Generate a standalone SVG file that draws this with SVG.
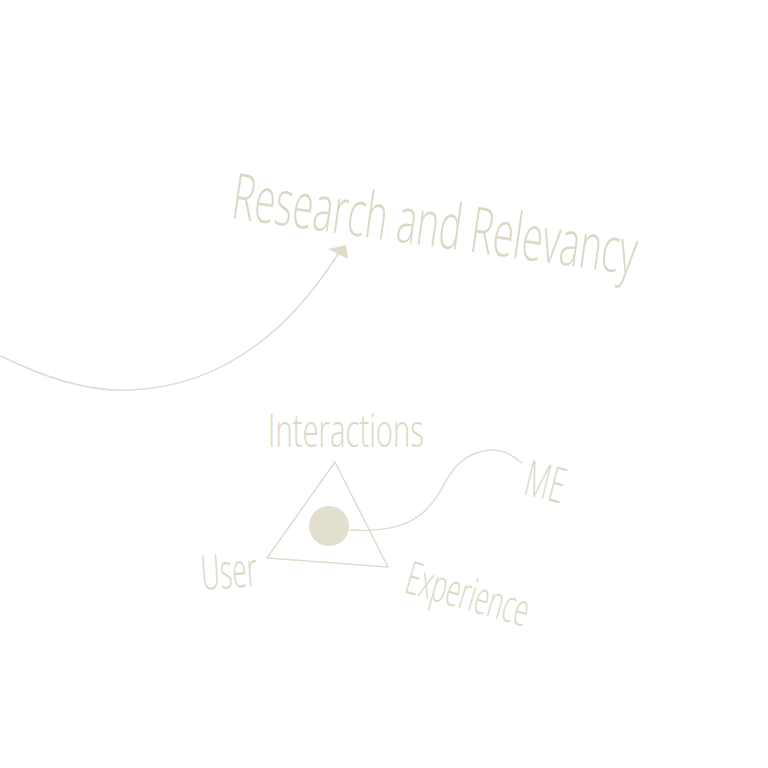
<svg xmlns="http://www.w3.org/2000/svg" width="768" height="768" viewBox="0 0 768 768">
<style>
.lbl{font-family:"Open Sans","DejaVu Sans",sans-serif;font-weight:300;fill:#dcd8c4}
.ln{fill:none;stroke:#e0dccb;stroke-width:1.5;stroke-linecap:round}
</style>
<rect width="768" height="768" fill="#ffffff"/>
<g id="connectors">
<path class="ln" d="M1,356 C45,378 90,392 130,390 C210,387 280,345 338,254"/>
<polygon points="328,249 346,245 348,259" fill="#e0dccb"/>
<path class="ln" d="M350,530 C400,533 425,520 442,488 C455,462 470,452 490,450 C503,449 512,455 522,463"/>
</g>
<g id="research">
<text class="lbl" transform="translate(230,218) rotate(8) scale(1,1.45)" font-size="44" textLength="408" lengthAdjust="spacingAndGlyphs">Research and Relevancy</text>
</g>
<g id="triangle">
<polygon points="335,462 267,558 388,567" fill="none" stroke="#e0dccb" stroke-width="1.5" stroke-linejoin="round"/>
<circle cx="329" cy="526" r="20" fill="#e3dfcf"/>
</g>
<g id="interactions">
<text class="lbl" transform="translate(268,447) scale(1,1.35)" font-size="34" textLength="156" lengthAdjust="spacingAndGlyphs">Interactions</text>
</g>
<g id="me">
<text class="lbl" transform="translate(522,494) rotate(14) scale(1,1.3)" font-size="38" textLength="40" lengthAdjust="spacingAndGlyphs">ME</text>
</g>
<g id="user">
<text class="lbl" transform="translate(202,590) rotate(-4) scale(1,1.35)" font-size="36" textLength="56" lengthAdjust="spacingAndGlyphs">User</text>
</g>
<g id="experience">
<text class="lbl" transform="translate(403,592) rotate(16) scale(1,1.35)" font-size="34" textLength="126" lengthAdjust="spacingAndGlyphs">Experience</text>
</g>
</svg>
